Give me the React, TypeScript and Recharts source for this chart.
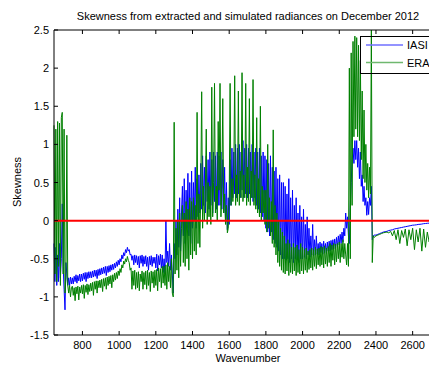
import React from 'react';
import { LineChart, Line, XAxis, YAxis, ReferenceLine } from 'recharts';

// wavenumber grid (cm-1): 5 cm-1 steps over the noisy part, 10 cm-1 over the smooth tail
const wavenumbers = [
  645, 650, 655, 660, 665, 670, 675, 680, 685, 690,
  695, 700, 705, 710, 715, 720, 725, 730, 735, 740,
  745, 750, 755, 760, 765, 770, 775, 780, 785, 790,
  795, 800, 805, 810, 815, 820, 825, 830, 835, 840,
  845, 850, 855, 860, 865, 870, 875, 880, 885, 890,
  895, 900, 905, 910, 915, 920, 925, 930, 935, 940,
  945, 950, 955, 960, 965, 970, 975, 980, 985, 990,
  995, 1000, 1005, 1010, 1015, 1020, 1025, 1030, 1035, 1040,
  1045, 1050, 1055, 1060, 1065, 1070, 1075, 1080, 1085, 1090,
  1095, 1100, 1105, 1110, 1115, 1120, 1125, 1130, 1135, 1140,
  1145, 1150, 1155, 1160, 1165, 1170, 1175, 1180, 1185, 1190,
  1195, 1200, 1205, 1210, 1215, 1220, 1225, 1230, 1235, 1240,
  1245, 1250, 1255, 1260, 1265, 1270, 1275, 1280, 1285, 1290,
  1295, 1300, 1305, 1310, 1315, 1320, 1325, 1330, 1335, 1340,
  1345, 1350, 1355, 1360, 1365, 1370, 1375, 1380, 1385, 1390,
  1395, 1400, 1405, 1410, 1415, 1420, 1425, 1430, 1435, 1440,
  1445, 1450, 1455, 1460, 1465, 1470, 1475, 1480, 1485, 1490,
  1495, 1500, 1505, 1510, 1515, 1520, 1525, 1530, 1535, 1540,
  1545, 1550, 1555, 1560, 1565, 1570, 1575, 1580, 1585, 1590,
  1595, 1600, 1605, 1610, 1615, 1620, 1625, 1630, 1635, 1640,
  1645, 1650, 1655, 1660, 1665, 1670, 1675, 1680, 1685, 1690,
  1695, 1700, 1705, 1710, 1715, 1720, 1725, 1730, 1735, 1740,
  1745, 1750, 1755, 1760, 1765, 1770, 1775, 1780, 1785, 1790,
  1795, 1800, 1805, 1810, 1815, 1820, 1825, 1830, 1835, 1840,
  1845, 1850, 1855, 1860, 1865, 1870, 1875, 1880, 1885, 1890,
  1895, 1900, 1905, 1910, 1915, 1920, 1925, 1930, 1935, 1940,
  1945, 1950, 1955, 1960, 1965, 1970, 1975, 1980, 1985, 1990,
  1995, 2000, 2005, 2010, 2015, 2020, 2025, 2030, 2035, 2040,
  2045, 2050, 2055, 2060, 2065, 2070, 2075, 2080, 2085, 2090,
  2095, 2100, 2105, 2110, 2115, 2120, 2125, 2130, 2135, 2140,
  2145, 2150, 2155, 2160, 2165, 2170, 2175, 2180, 2185, 2190,
  2195, 2200, 2205, 2210, 2215, 2220, 2225, 2230, 2235, 2240,
  2245, 2250, 2255, 2260, 2265, 2270, 2275, 2280, 2285, 2290,
  2295, 2300, 2305, 2310, 2315, 2320, 2325, 2330, 2335, 2340,
  2345, 2350, 2355, 2360, 2365, 2370, 2375, 2380, 2385, 2390,
  2400, 2410, 2420, 2430, 2440, 2450, 2460, 2470, 2480, 2490,
  2500, 2510, 2520, 2530, 2540, 2550, 2560, 2570, 2580, 2590,
  2600, 2610, 2620, 2630, 2640, 2650, 2660, 2670, 2680, 2690,
  2700, 2710, 2720, 2730, 2740, 2750, 2760,
];

const iasiSkew = [
  -0.3, -0.8, -0.35, -0.85, -0.45, -0.8, -0.3, -0.75, -0.5, 0.22,
  -0.6, -0.9, -1.17, -0.55, -0.7, -0.85, -0.75, -0.85, -0.74, -0.83,
  -0.75, -0.83, -0.73, -0.8, -0.71, -0.82, -0.72, -0.79, -0.7, -0.8,
  -0.7, -0.79, -0.69, -0.77, -0.68, -0.8, -0.68, -0.76, -0.67, -0.75,
  -0.67, -0.75, -0.66, -0.74, -0.65, -0.73, -0.65, -0.76, -0.64, -0.72,
  -0.63, -0.71, -0.62, -0.7, -0.61, -0.69, -0.6, -0.72, -0.6, -0.68,
  -0.59, -0.67, -0.58, -0.65, -0.57, -0.64, -0.56, -0.62, -0.54, -0.6,
  -0.52, -0.58, -0.5, -0.54, -0.45, -0.5, -0.42, -0.46, -0.38, -0.42,
  -0.35, -0.4, -0.38, -0.45, -0.44, -0.52, -0.46, -0.58, -0.45, -0.55,
  -0.46, -0.58, -0.47, -0.62, -0.46, -0.56, -0.45, -0.6, -0.47, -0.57,
  -0.46, -0.6, -0.48, -0.65, -0.47, -0.58, -0.46, -0.6, -0.48, -0.56,
  -0.48, -0.62, -0.44, -0.66, -0.46, -0.58, -0.44, -0.62, -0.45, -0.68,
  -0.5, -0.7, 0.0, -0.55, -0.4, -0.6, -0.3, -0.65, -0.45, -0.7,
  -0.95, -0.3, -0.5, 0.0, -0.45, 0.15, -0.35, 0.3, -0.4, 0.1,
  0.45, -0.2, 0.55, -0.3, 0.4, -0.1, 0.62, -0.2, 0.5, -0.3,
  0.65, -0.1, 0.5, 0.0, 0.7, -0.1, 0.55, 0.05, 0.6, 0.1,
  0.75, 0.15, 0.85, 0.2, 0.7, 0.1, 0.85, 0.25, 0.8, 0.15,
  0.9, 0.2, 0.8, 0.1, 0.9, 0.25, 0.85, 0.15, 0.9, 0.2,
  0.85, 0.2, 0.9, 0.15, 0.8, 0.1, 0.7, 0.0, 0.5, -0.12,
  0.3, -0.05, 0.8, 0.2, 0.95, 0.3, 0.9, 0.35, 1.0, 0.3,
  0.95, 0.35, 1.0, 0.3, 0.9, 0.4, 1.05, 0.3, 0.95, 0.35,
  1.0, 0.3, 0.95, 0.35, 0.9, 0.3, 1.0, 0.25, 0.9, 0.3,
  0.95, 0.2, 0.9, 0.15, 0.95, 0.1, 0.85, 0.05, 0.9, 0.0,
  0.85, -0.1, 0.8, -0.15, 0.75, -0.2, 0.85, -0.15, 0.7, -0.25,
  0.65, -0.3, 0.7, -0.35, 0.55, -0.4, 0.6, -0.45, 0.5, -0.5,
  0.5, -0.5, 0.45, -0.52, 0.35, -0.5, 0.55, -0.55, 0.3, -0.5,
  0.4, -0.55, 0.2, -0.5, 0.3, -0.52, 0.1, -0.55, 0.2, -0.5,
  0.05, -0.5, 0.15, -0.48, -0.05, -0.5, 0.05, -0.45, -0.1, -0.48,
  -0.2, -0.45, -0.05, -0.46, -0.25, -0.45, -0.2, -0.44, -0.3, -0.45,
  -0.28, -0.42, -0.3, -0.44, -0.27, -0.42, -0.3, -0.43, -0.28, -0.4,
  -0.27, -0.4, -0.26, -0.38, -0.25, -0.37, -0.24, -0.36, -0.22, -0.34,
  -0.2, -0.32, -0.18, -0.3, -0.15, -0.28, -0.1, -0.2, 0.1, -0.1,
  0.05, -0.2, -0.3, 0.2, 0.5, 0.8, 0.95, 0.75, 1.05, 0.8,
  1.05, 0.7, 0.95, 0.55, 0.9, 0.45, 0.6, 0.25, 0.45, 0.2,
  0.3, 0.07, 0.25, 0.08, 0.3, 0.2, 0.45, -0.25, -0.2, -0.19,
  -0.19, -0.18, -0.17, -0.16, -0.15, -0.145, -0.14, -0.13, -0.125, -0.12,
  -0.11, -0.105, -0.1, -0.095, -0.09, -0.085, -0.08, -0.075, -0.07, -0.065,
  -0.06, -0.058, -0.055, -0.05, -0.048, -0.045, -0.04, -0.038, -0.035, -0.033,
  -0.03, -0.028, -0.025, -0.023, -0.02, -0.02, -0.02,
];

const eraSkew = [
  1.25, -0.7, 1.2, -0.8, 1.3, -0.6, 1.28, -0.85, 1.35, 1.42,
  -0.7, 1.2, -0.95, -0.75, 1.12, -0.85, -0.95, -0.85, -1.0, -0.88,
  -0.86, -0.98, -0.88, -1.05, -0.87, -0.96, -0.86, -1.04, -0.87, -0.95,
  -0.85, -0.96, -0.84, -1.02, -0.85, -0.94, -0.83, -0.97, -0.84, -0.93,
  -0.82, -0.92, -0.81, -0.98, -0.8, -0.9, -0.79, -0.95, -0.79, -0.88,
  -0.78, -0.88, -0.77, -0.93, -0.76, -0.86, -0.75, -0.9, -0.74, -0.85,
  -0.73, -0.83, -0.72, -0.88, -0.71, -0.8, -0.69, -0.78, -0.68, -0.76,
  -0.66, -0.72, -0.63, -0.68, -0.58, -0.62, -0.53, -0.57, -0.5, -0.54,
  -0.47, -0.52, -0.55, -0.65, -0.62, -0.9, -0.66, -0.85, -0.65, -0.9,
  -0.68, -0.88, -0.67, -0.92, -0.7, -0.8, -0.66, -0.9, -0.68, -0.84,
  -0.66, -0.9, -0.65, -0.85, -0.68, -0.93, -0.66, -0.82, -0.67, -0.88,
  -0.65, -0.85, -0.64, -0.92, -0.62, -0.8, -0.63, -0.88, -0.6, -0.82,
  -0.6, -0.85, -0.58, -0.9, -0.55, -0.8, -0.6, -0.88, -0.5, -0.95,
  -1.0, 1.29, -0.7, -0.1, -0.65, 0.0, -0.75, 0.1, -0.6, -0.1,
  0.2, -0.55, 0.1, -0.6, 0.25, -0.5, 0.15, -0.65, 0.3, -0.45,
  0.25, -0.5, 0.3, -0.4, 0.2, -0.45, 1.42, -0.3, 0.35, -0.35,
  0.4, 1.69, -0.1, 0.45, 0.0, 0.4, 1.2, -0.05, 0.5, 0.05,
  0.45, -0.05, 1.75, 0.05, 0.5, 1.8, 0.1, 0.45, 0.0, 1.3,
  0.4, 1.8, 0.05, 0.45, 1.6, 0.1, 0.35, -0.05, 0.2, -0.16,
  -0.1, 0.3, 1.8, 0.2, 0.55, 0.25, 0.6, 1.9, 0.2, 0.6,
  0.25, 1.7, 0.2, 0.65, 0.3, 1.94, 0.25, 0.6, 0.3, 1.8,
  0.2, 0.7, 0.25, 1.6, 0.2, 0.65, 0.3, 1.85, 0.2, 0.6,
  0.15, 1.35, 0.1, 0.55, 0.05, 1.5, 0.0, 0.45, 0.1, 0.4,
  -0.05, 0.4, -0.15, 1.0, -0.1, 0.3, -0.2, 0.25, -0.3, 1.19,
  -0.35, 0.2, -0.45, 0.1, -0.55, 0.0, -0.6, -0.1, -0.65, -0.15,
  -0.68, -0.2, -0.7, -0.3, -0.66, -0.25, -0.72, -0.3, -0.68, -0.35,
  -0.7, -0.3, -0.66, -0.35, -0.72, -0.32, -0.68, -0.38, -0.7, -0.3,
  -0.66, -0.35, -0.7, -0.38, -0.65, -0.36, -0.68, -0.4, -0.64, -0.38,
  -0.62, -0.36, -0.65, -0.38, -0.6, -0.35, -0.63, -0.37, -0.58, -0.36,
  -0.6, -0.34, -0.58, -0.35, -0.62, -0.33, -0.57, -0.36, -0.6, -0.34,
  -0.55, -0.3, -0.6, -0.32, -0.52, -0.3, -0.58, -0.31, -0.54, -0.3,
  -0.5, -0.28, -0.55, -0.3, -0.48, -0.25, -0.5, -0.3, -0.45, -0.58,
  -0.3, -0.6, 2.0, -0.5, 2.2, 0.2, 2.35, 1.1, 2.42, 1.2,
  2.4, 1.1, 2.3, 1.05, 2.1, 0.8, 1.7, 0.55, 1.45, 0.5,
  1.0, 0.4, 0.75, 0.3, 0.7, 0.35, 2.5, -0.55, -0.2, -0.22,
  -0.2, -0.19, -0.18, -0.17, -0.16, -0.155, -0.15, -0.16, -0.14, -0.2,
  -0.13, -0.25, -0.12, -0.3, -0.13, -0.22, -0.11, -0.33, -0.12, -0.25,
  -0.1, -0.38, -0.12, -0.28, -0.1, -0.4, -0.11, -0.35, -0.15, -0.28,
  -0.1, -0.3, -0.12, -0.25, -0.1, -0.22, -0.1,
];

const seriesNames = ['IASI', 'ERA'];
const xTicks = [800, 1000, 1200, 1400, 1600, 1800, 2000, 2200, 2400, 2600];
const yTicks = [-1.5, -1, -0.5, 0, 0.5, 1, 1.5, 2, 2.5];

const font = '"Liberation Sans", Arial, Helvetica, sans-serif';

const rows = wavenumbers.map((wn, i) => ({ wn, iasi: iasiSkew[i], era: eraSkew[i] }));

const BottomTick = (props: any) => {
  const { x, y, payload } = props;
  return (
    <g>
      <line x1={x} y1={y} x2={x} y2={y - 4} stroke="#000" />
      <text x={x} y={y + 14} textAnchor="middle" fontSize={11} fontFamily={font} fill="#000">
        {payload.value}
      </text>
    </g>
  );
};

const TopTick = (props: any) => {
  const { x, y } = props;
  return <line x1={x} y1={y} x2={x} y2={y + 4} stroke="#000" />;
};

const LeftTick = (props: any) => {
  const { x, y, payload } = props;
  return (
    <g>
      <line x1={x} y1={y} x2={x + 4} y2={y} stroke="#000" />
      <text x={x - 5} y={y + 4} textAnchor="end" fontSize={11} fontFamily={font} fill="#000">
        {payload.value}
      </text>
    </g>
  );
};

export default function App() {
  return (
    <div
      style={{
        position: 'absolute',
        left: 0,
        top: 0,
        width: 429,
        height: 365,
        overflow: 'hidden',
        background: '#fff',
        fontFamily: font,
        color: '#000',
      }}
    >
      <LineChart width={442} height={365} data={rows} margin={{ top: 0, right: 0, bottom: 0, left: 0 }}>
        <XAxis
          xAxisId="top"
          orientation="top"
          dataKey="wn"
          type="number"
          domain={[645, 2760]}
          ticks={xTicks}
          interval={0}
          height={30}
          tick={<TopTick />}
          tickLine={false}
          tickSize={0}
          tickMargin={0}
          axisLine={{ stroke: '#000' }}
        />
        <XAxis
          dataKey="wn"
          type="number"
          domain={[645, 2760]}
          ticks={xTicks}
          interval={0}
          height={30}
          tick={<BottomTick />}
          tickLine={false}
          tickSize={0}
          tickMargin={0}
          axisLine={{ stroke: '#000' }}
        />
        <YAxis
          width={54}
          domain={[-1.5, 2.5]}
          ticks={yTicks}
          interval={0}
          tick={<LeftTick />}
          tickLine={false}
          tickSize={0}
          tickMargin={0}
          axisLine={{ stroke: '#000' }}
        />
        <Line dataKey="iasi" name={seriesNames[0]} stroke="#0000ff" strokeWidth={1} dot={false} isAnimationActive={false} />
        <Line dataKey="era" name={seriesNames[1]} stroke="#008000" strokeWidth={1} dot={false} isAnimationActive={false} />
        <ReferenceLine y={0} stroke="#ff0000" strokeWidth={2} />
      </LineChart>

      <div style={{ position: 'absolute', left: 54, width: 388, top: 10, textAlign: 'center', fontSize: 11 }}>
        Skewness from extracted and simulated radiances on December 2012
      </div>
      <div style={{ position: 'absolute', left: 54, width: 388, top: 352, textAlign: 'center', fontSize: 11 }}>
        Wavenumber
      </div>
      <div
        style={{
          position: 'absolute',
          left: 17,
          top: 182,
          fontSize: 11,
          whiteSpace: 'nowrap',
          transform: 'translate(-50%, -50%) rotate(-90deg)',
        }}
      >
        Skewness
      </div>

      <svg width={100} height={38} style={{ position: 'absolute', left: 360, top: 36 }}>
        <rect x={0.5} y={0.5} width={99} height={37} fill="none" stroke="#000" />
        <line x1={6} x2={43} y1={9} y2={9} stroke="#6f6fff" strokeWidth={1.5} />
        <text x={47} y={13} fontSize={11} fontFamily={font} fill="#000">{seriesNames[0]}</text>
        <line x1={6} x2={43} y1={26.5} y2={26.5} stroke="#6fb86f" strokeWidth={1.5} />
        <text x={47} y={30.5} fontSize={11} fontFamily={font} fill="#000">{seriesNames[1]}</text>
      </svg>
    </div>
  );
}
